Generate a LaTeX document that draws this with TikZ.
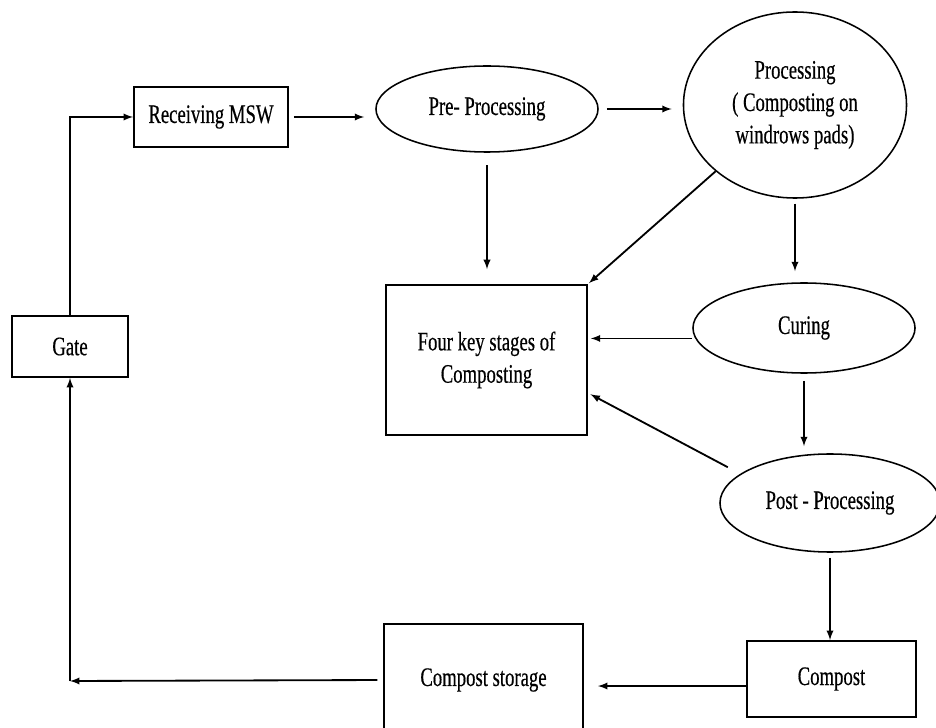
\documentclass[tikz,border=0pt]{standalone}
\usepackage{fontspec}
\setmainfont[FakeStretch=0.7,FakeBold=0.4]{Liberation Serif}
\usepackage{tikz}
\usetikzlibrary{shapes.geometric,positioning,arrows}
\tikzstyle{arrow} = [line width=1.3pt,->,>=latex]
\tikzset{
 box/.style
  = {rectangle, draw, line width=1.3pt, align=center, inner sep=0pt},
 oval/.style
  = {ellipse, draw, line width=1.1pt, align=center, inner sep=0pt},
}

\begin{document}
\begin{tikzpicture}[x=0.025cm, y=-0.025cm,
    font=\fontsize{19}{23}\selectfont]
\useasboundingbox (0,0) rectangle (936,728);

% Gate and receiving
\node[box, minimum width=2.9cm, minimum height=1.525cm] (gate) at (70,346.5) {Gate};
\node[box, minimum width=3.85cm, minimum height=1.5cm] (recv) at (211,117) {Receiving MSW};

% Stages
\node[oval, minimum width=5.55cm, minimum height=2.15cm] (pre) at (487,109) {Pre- Processing};
\node[oval, minimum width=5.575cm, minimum height=4.65cm] (proc) at (795,105)
    {Processing\\( Composting on\\windrows pads)};
\node[oval, minimum width=5.55cm, minimum height=2.25cm] (cure) at (804,328) {Curing};
\node[oval, minimum width=5.5cm, minimum height=2.45cm] (post) at (830,503) {Post - Processing};

% Centre box
\node[box, minimum width=5.025cm, minimum height=3.75cm] (four) at (486.5,360)
    {Four key stages of\\Composting};

% Output
\node[box, minimum width=4.225cm, minimum height=1.9cm] (compost) at (831.5,679) {Compost};
\node[box, minimum width=4.975cm, minimum height=2.8cm] (storage) at (483.5,680) {Compost storage};
\coordinate (corner) at (70,681);

% Arrows
\draw[arrow] (gate.north) |- (recv.west);
\draw[arrow, shorten <=3.5pt, shorten >=7.8pt] (recv.east) -- (recv.east -| pre.west);
\draw[arrow, shorten <=5.7pt, shorten >=7.8pt] (pre.east) -- (pre.east -| proc.west);
\draw[arrow, shorten <=9pt, shorten >=10.6pt] (pre.south) -- (pre.south |- four.north);
\draw[arrow, shorten >=1pt] (proc.south west) -- (four.north east);
\draw[arrow, shorten <=3.5pt, shorten >=7.8pt] (proc.south) -- (proc.south |- cure.north);
\draw[arrow, shorten >=2pt] (four.12 -| cure.west) -- (four.12);
\draw[arrow, shorten <=5pt, shorten >=5pt] (cure.south) -- (cure.south |- post.north);
\draw[arrow, shorten <=10pt, shorten >=2pt] (post.162) -- (four.-18);
\draw[arrow, shorten <=3.5pt] (post.south) -- (post.south |- compost.north);
\draw[arrow, shorten >=10pt] ([yshift=-5pt]compost.west) -- ([yshift=-5pt]compost.west -| storage.east);
\draw[arrow, shorten <=4pt] (storage.west) -- (corner);
\draw[arrow] (corner) -- (gate.south);

\end{tikzpicture}
\end{document}
